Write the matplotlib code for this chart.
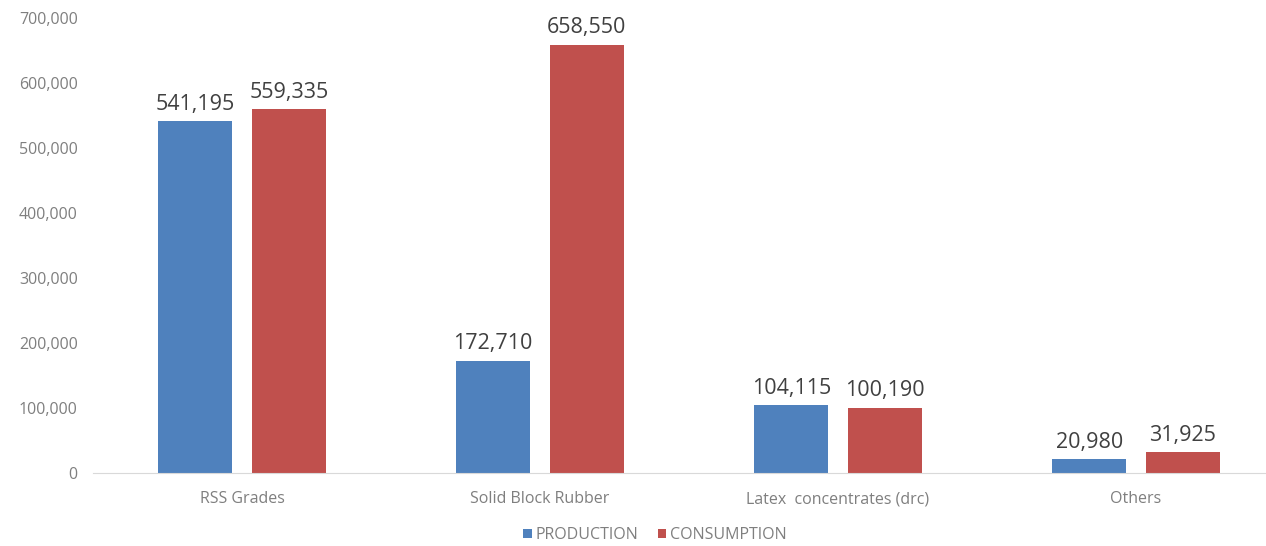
import matplotlib
matplotlib.use("Agg")
import matplotlib.pyplot as plt
from matplotlib.ticker import FuncFormatter

categories = ["RSS Grades", "Solid Block Rubber", "Latex  concentrates (drc)", "Others"]
production = [541195, 172710, 104115, 20980]
consumption = [559335, 658550, 100190, 31925]

plt.rcParams['font.family'] = ['Open Sans', 'DejaVu Sans']

fig = plt.figure(figsize=(12.66, 5.46), dpi=100)
ax = fig.add_axes([93 / 1266, 73 / 546, (1266 - 93) / 1266, (473 - 18) / 546])

x = list(range(len(categories)))
w = 0.248
off = 0.157
b1 = ax.bar([i - off for i in x], production, w, color="#4F81BD", label="PRODUCTION")
b2 = ax.bar([i + off for i in x], consumption, w, color="#C0504D", label="CONSUMPTION")

# value labels above each bar
for bars in (b1, b2):
    for b in bars:
        ax.text(b.get_x() + b.get_width() / 2, b.get_height() + 10000,
                f"{int(b.get_height()):,}", ha="center", va="bottom",
                fontsize=15.5, color="#404040")

ax.set_ylim(0, 700000)
ax.set_xlim(-0.5, 3.5 - 19 / 298)
ax.set_yticks(range(0, 700001, 100000))
ax.yaxis.set_major_formatter(FuncFormatter(lambda v, p: f"{int(v):,}"))
ax.set_xticks(x)
ax.set_xticklabels(categories)
ax.tick_params(axis="both", length=0, colors="#7f7f7f", labelsize=11.5)
ax.tick_params(axis="y", pad=11)
ax.tick_params(axis="x", pad=13)
for s in ["top", "right", "left"]:
    ax.spines[s].set_visible(False)
ax.spines["bottom"].set_color("#d9d9d9")

leg = fig.legend(loc="center", bbox_to_anchor=(655 / 1266, 1 - 535 / 546), ncol=2,
                 frameon=False, fontsize=11.5, handlelength=0.55, handleheight=0.55,
                 handletextpad=0.25, columnspacing=1.2)
for t in leg.get_texts():
    t.set_color("#7f7f7f")

fig.savefig("out.png", dpi=100)
